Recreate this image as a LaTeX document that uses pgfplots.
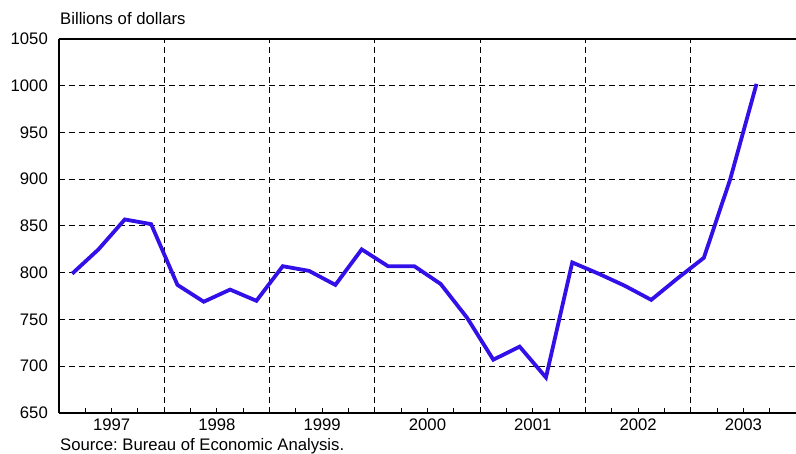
\documentclass[border=0pt]{standalone}
\usepackage{fontspec}
\setmainfont{Liberation Sans}
\usepackage{pgfplots}
\pgfplotsset{compat=1.18}
\definecolor{lineblue}{RGB}{50,16,232}
\frenchspacing
\begin{document}
\begin{tikzpicture}[font=\fontsize{16.7}{20}\selectfont]
\begin{axis}[
  name=ax,
  at={(0,0)}, anchor=south west,
  scale only axis,
  width=737pt, height=374pt,
  xmin=1997, xmax=2004,
  ymin=650, ymax=1050,
  clip=false,
  axis x line*=bottom, axis y line*=left,
  axis line style={line width=1.3pt, -},
  /pgf/number format/assume math mode=true,
  /pgf/number format/1000 sep={},
  tick label style={font=\fontsize{16.7}{20}\selectfont},
  xtick={1997.5,1998.5,1999.5,2000.5,2001.5,2002.5,2003.5},
  xticklabels={1997,1998,1999,2000,2001,2002,2003},
  minor xtick={1997.25,1997.75,1998.25,1998.75,1999.25,1999.75,2000.25,2000.75,2001.25,2001.75,2002.25,2002.75,2003.25,2003.75},
  tick align=inside,
  major tick length=5pt, minor tick length=5pt,
  x tick style={line width=1pt, black},
  xticklabel style={anchor=base, inner sep=0pt, yshift=-17pt},
  extra x ticks={1998,1999,2000,2001,2002,2003},
  extra x tick labels={},
  extra x tick style={xmajorgrids=true, major tick length=0pt},
  ytick={650,700,...,1050},
  yticklabel style={anchor=east, inner sep=0pt, xshift=-11pt},
  y tick style={draw=none},
  ymajorgrids=true,
  major grid style={black, line width=1pt, dash pattern=on 6pt off 4pt},
]
\addplot[lineblue, line width=3.8pt, line join=miter] coordinates {
(1997.125,799)
(1997.375,825)
(1997.625,857)
(1997.875,852)
(1998.125,787)
(1998.375,769)
(1998.625,782)
(1998.875,770)
(1999.125,807)
(1999.375,802)
(1999.625,787)
(1999.875,825)
(2000.125,807)
(2000.375,807)
(2000.625,788)
(2000.875,752)
(2001.125,707)
(2001.375,721)
(2001.625,688)
(2001.875,811)
(2002.125,799)
(2002.375,786)
(2002.625,771)
(2002.875,794)
(2003.125,816)
(2003.375,900)
(2003.625,1002)
};
\draw[line width=1.3pt] (rel axis cs:0,1) -- (rel axis cs:1,1);
\end{axis}
\node[anchor=base west, inner sep=0pt] at ([xshift=1pt,yshift=14pt]ax.north west) {Billions of dollars};
\node[anchor=base west, inner sep=0pt] at ([xshift=1pt,yshift=-37pt]ax.south west) {Source: Bureau of Economic Analysis.};
\pgfresetboundingbox
\path[use as bounding box] (-59pt,-40pt) rectangle (737pt,413pt);
\end{tikzpicture}
\end{document}
